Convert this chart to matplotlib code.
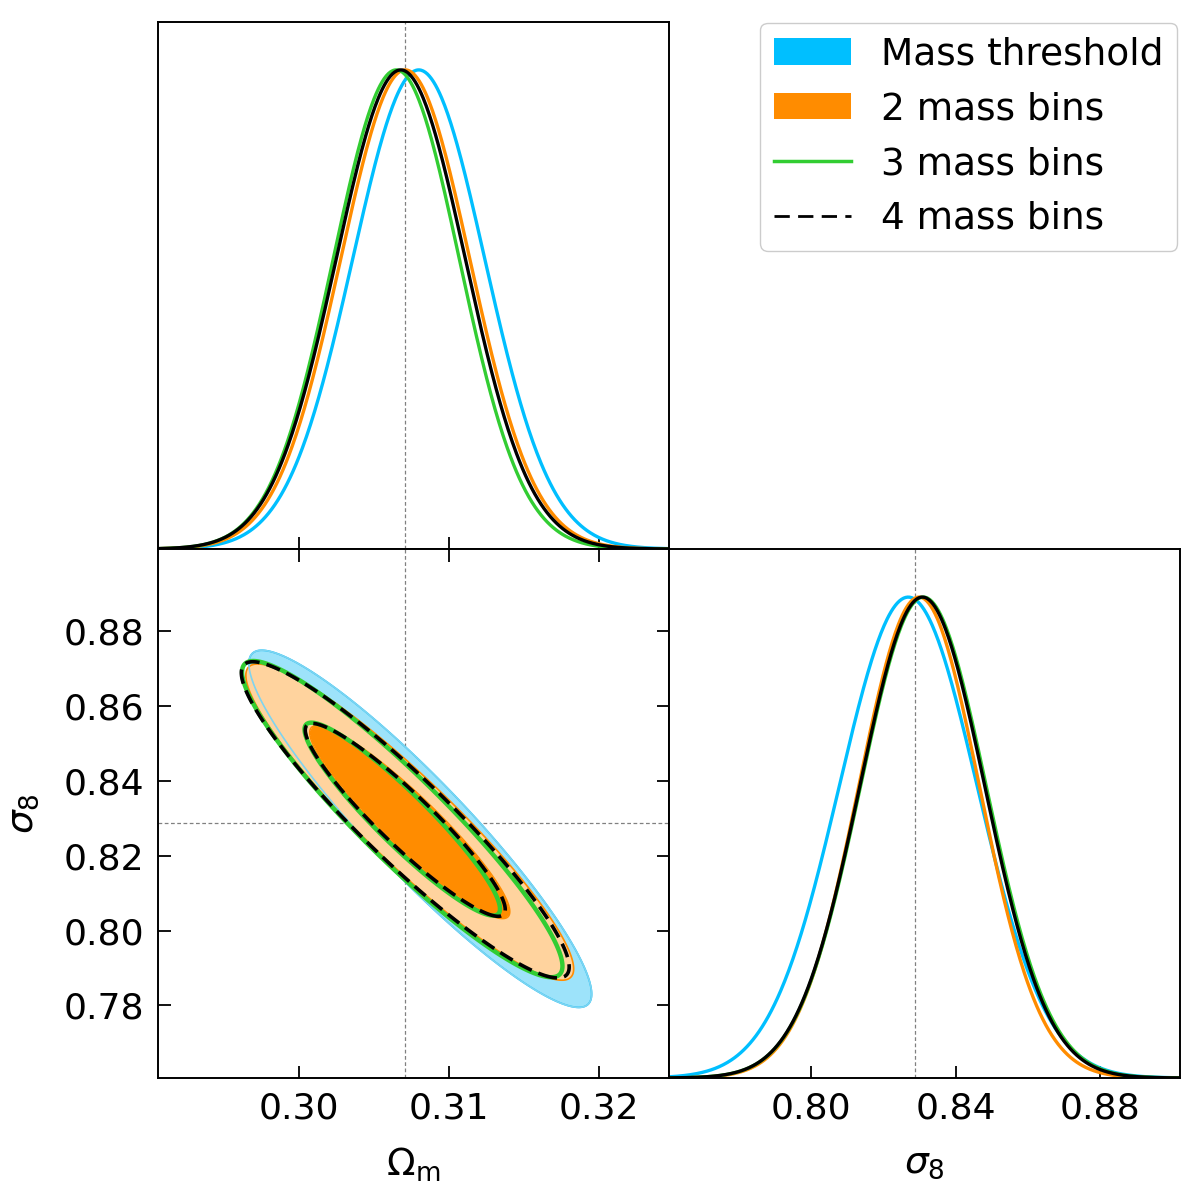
import numpy as np
import matplotlib
matplotlib.use('Agg')
import matplotlib.pyplot as plt
from matplotlib.patches import Patch
from matplotlib.lines import Line2D

# posterior summaries (mean, sigma, correlation)
labels = ['Mass threshold', '2 mass bins', '3 mass bins', '4 mass bins']
om_mean = [0.3081, 0.3074, 0.3069, 0.3071]
s8_mean = [0.8272, 0.8290, 0.8298, 0.8296]
om_sigma = [0.0046, 0.0044, 0.0043, 0.0044]
s8_sigma = [0.0192, 0.0170, 0.0170, 0.0170]
corr = [-0.925, -0.928, -0.93, -0.93]

om_true = 0.3071
s8_true = 0.8288

om_ticks = [0.30, 0.31, 0.32]
s8_xticks = [0.80, 0.84, 0.88]
s8_yticks = [0.78, 0.80, 0.82, 0.84, 0.86, 0.88]
om_range = (0.2906, 0.3247)
s8_range = (0.7606, 0.9020)

line_colors = ['#00BFFF', '#FF8C00', '#32CD32', 'black']
fill_colors = [('#00BFFF', '#9DE3FA'), ('#FF8C00', '#FFD39E')]

plt.rcParams['font.family'] = 'DejaVu Sans'
fig = plt.figure(figsize=(12, 12), dpi=100)

L, M, R = 158 / 1200, 669 / 1200, 1180 / 1200
B, C, T = 1 - 1078 / 1200, 1 - 549 / 1200, 1 - 22 / 1200
ax_om = fig.add_axes([L, C, M - L, T - C])
ax_2d = fig.add_axes([L, B, M - L, C - B])
ax_s8 = fig.add_axes([M, B, R - M, C - B])

fs = 26
truth_kw = dict(color='gray', lw=0.9, ls=(0, (3, 2)), zorder=0)

# 1D marginals
xo = np.linspace(*om_range, 500)
xs = np.linspace(*s8_range, 500)
s8_1d_mean = [0.8268, 0.8298, 0.8310, 0.8307]
s8_1d_sigma = [0.0191, 0.0167, 0.0174, 0.0173]
om_1d_mean = [0.3080, 0.3071, 0.3065, 0.3068]
om_1d_sigma = [0.0044, 0.0043, 0.0042, 0.0043]
for i in range(4):
    ax_om.plot(xo, np.exp(-0.5 * ((xo - om_1d_mean[i]) / om_1d_sigma[i]) ** 2),
               color=line_colors[i], lw=2.4)
    ax_s8.plot(xs, np.exp(-0.5 * ((xs - s8_1d_mean[i]) / s8_1d_sigma[i]) ** 2),
               color=line_colors[i], lw=2.4)
ax_om.axvline(om_true, **truth_kw)
ax_s8.axvline(s8_true, **truth_kw)

# 2D contours (68% and 95%)
X, Y = np.meshgrid(np.linspace(*om_range, 600), np.linspace(*s8_range, 600))
levels = [2.30, 6.18]
chi = []
for i in range(4):
    dx = (X - om_mean[i]) / om_sigma[i]
    dy = (Y - s8_mean[i]) / s8_sigma[i]
    r = corr[i]
    chi.append((dx ** 2 - 2 * r * dx * dy + dy ** 2) / (1 - r ** 2))

for i in range(2):
    dark, light = fill_colors[i]
    ax_2d.contourf(X, Y, chi[i], levels=[0, levels[0], levels[1]],
                   colors=[dark, light], zorder=1 + i)
    ax_2d.contour(X, Y, chi[i], levels=levels, colors=[dark],
                  linewidths=1.2, zorder=1 + i)
# blue outer edge shows through the orange band
ax_2d.contour(X, Y, chi[0], levels=[levels[1]], colors=['#7FD4F0'],
              linewidths=1.2, zorder=3)
ax_2d.contour(X, Y, chi[2], levels=levels, colors=[line_colors[2]],
              linewidths=3.2, zorder=4)
cs = ax_2d.contour(X, Y, chi[3], levels=levels, colors=[line_colors[3]],
                   linewidths=2.6, linestyles=[(0, (4, 2))], zorder=5)
ax_2d.axvline(om_true, **truth_kw)
ax_2d.axhline(s8_true, **truth_kw)

# axes styling
for ax in (ax_om, ax_2d, ax_s8):
    for sp in ax.spines.values():
        sp.set_linewidth(1.4)
    ax.tick_params(direction='in', length=9, width=1.3, labelsize=fs, pad=10)

ax_om.set_xlim(om_range)
ax_om.set_ylim(0, 1.1)
ax_om.set_xticks(om_ticks)
ax_om.set_xticklabels([])
ax_om.set_yticks([])

ax_2d.set_xlim(om_range)
ax_2d.set_ylim(s8_range)
ax_2d.set_xticks(om_ticks)
ax_2d.set_xticklabels(['%.2f' % v for v in om_ticks])
ax_2d.set_yticks(s8_yticks)
ax_2d.set_yticklabels(['%.2f' % v for v in s8_yticks])
ax_2d.tick_params(top=True, right=True)
ax_2d.set_xlabel(r'$\Omega_{\rm m}$', fontsize=fs + 1, labelpad=14)
ax_2d.set_ylabel(r'$\sigma_8$', fontsize=fs + 1, labelpad=16)

ax_s8.set_xlim(s8_range)
ax_s8.set_ylim(0, 1.1)
ax_s8.set_xticks(s8_xticks)
ax_s8.set_xticklabels(['%.2f' % v for v in s8_xticks])
ax_s8.set_yticks([])
ax_s8.set_xlabel(r'$\sigma_8$', fontsize=fs + 1, labelpad=14)

handles = [Patch(facecolor=line_colors[0], edgecolor='none'),
           Patch(facecolor=line_colors[1], edgecolor='none'),
           Line2D([], [], color=line_colors[2], lw=2.5),
           Line2D([], [], color='black', lw=2.0, ls=(0, (5.5, 3)))]
fig.legend(handles, labels, loc='upper right', bbox_to_anchor=(0.981, 0.981),
           borderaxespad=0, fontsize=27, handlelength=2.05,
           handletextpad=0.8, labelspacing=0.5, borderpad=0.37,
           framealpha=1, edgecolor='#cccccc')

fig.savefig('out.png', dpi=100)
